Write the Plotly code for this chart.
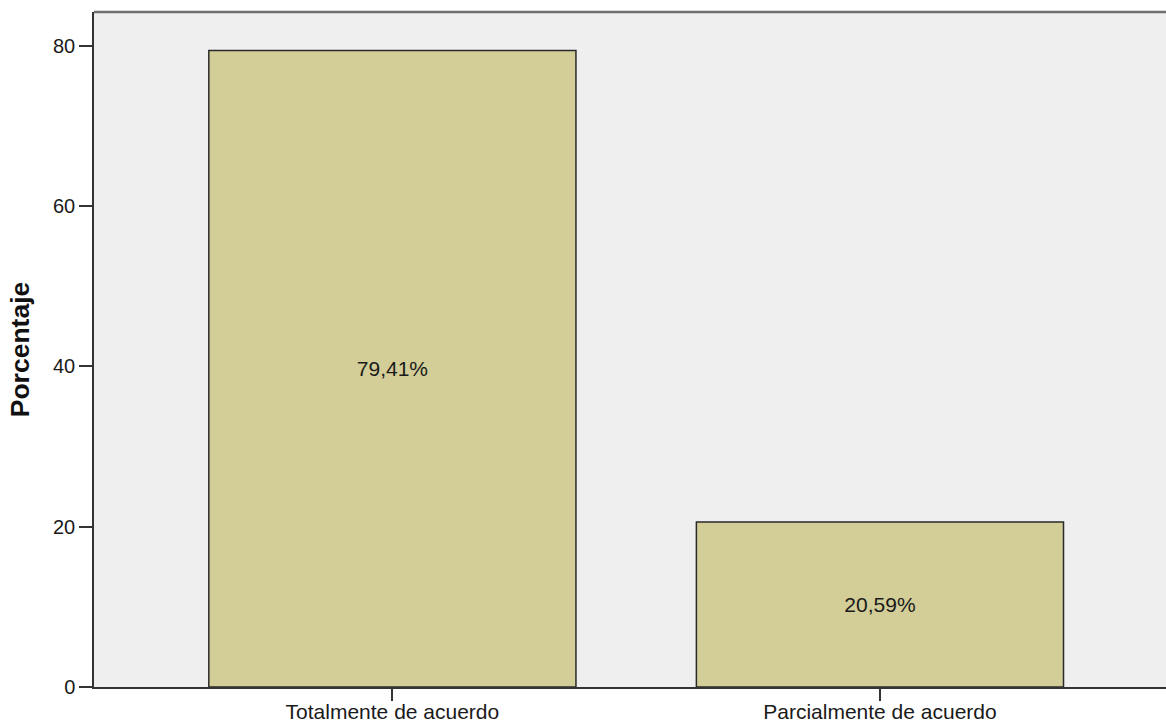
import plotly.graph_objects as go

categories = ["Totalmente de acuerdo", "Parcialmente de acuerdo"]
values = [79.41, 20.59]
bar_labels = ["79,41%", "20,59%"]
y_ticks = [0, 20, 40, 60, 80]

FONT = "Liberation Sans, Arial, sans-serif"

fig = go.Figure()
fig.add_trace(go.Bar(
    x=categories,
    y=values,
    text=bar_labels,
    textposition="inside",
    insidetextanchor="middle",
    textangle=0,
    textfont=dict(family=FONT, size=21, color="#1a1a1a"),
    width=0.753,
    marker=dict(color="#d3ce98", line=dict(color="#2a2a2a", width=1.5)),
    hoverinfo="skip",
))

fig.update_layout(
    width=1166,
    height=724,
    margin=dict(l=94, r=0, t=12, b=37, autoexpand=False),
    paper_bgcolor="white",
    plot_bgcolor="#efefef",
    showlegend=False,
    font=dict(family=FONT, color="#1a1a1a"),
)

fig.update_xaxes(
    type="category",
    range=[-0.612, 1.5867],
    automargin=False,
    showgrid=False,
    zeroline=False,
    showline=True,
    linecolor="#333333",
    linewidth=1.5,
    ticks="outside",
    ticklen=12,
    tickwidth=1.5,
    tickcolor="#333333",
    ticklabelstandoff=-7,
    tickfont=dict(family=FONT, size=21, color="#1a1a1a"),
)

fig.update_yaxes(
    range=[0, 84.2],
    automargin=False,
    tickvals=y_ticks,
    ticktext=[str(v) for v in y_ticks],
    showgrid=False,
    zeroline=False,
    showline=True,
    linecolor="#333333",
    linewidth=1.5,
    ticks="outside",
    ticklen=13,
    tickwidth=1.5,
    tickcolor="#333333",
    tickfont=dict(family=FONT, size=20, color="#1a1a1a"),
    title=dict(text="<b>Porcentaje</b>", font=dict(family=FONT, size=26.5, color="#111111"), standoff=16),
)

# top border of the plot frame
fig.add_shape(type="line", xref="paper", yref="paper", x0=0, x1=1, y0=1, y1=1,
              line=dict(color="#6e6e6e", width=2.5))

fig.write_html(
    "out.html",
    config={"displayModeBar": False},
    post_script="document.body.style.margin='0';document.body.style.overflow='hidden';",
)
